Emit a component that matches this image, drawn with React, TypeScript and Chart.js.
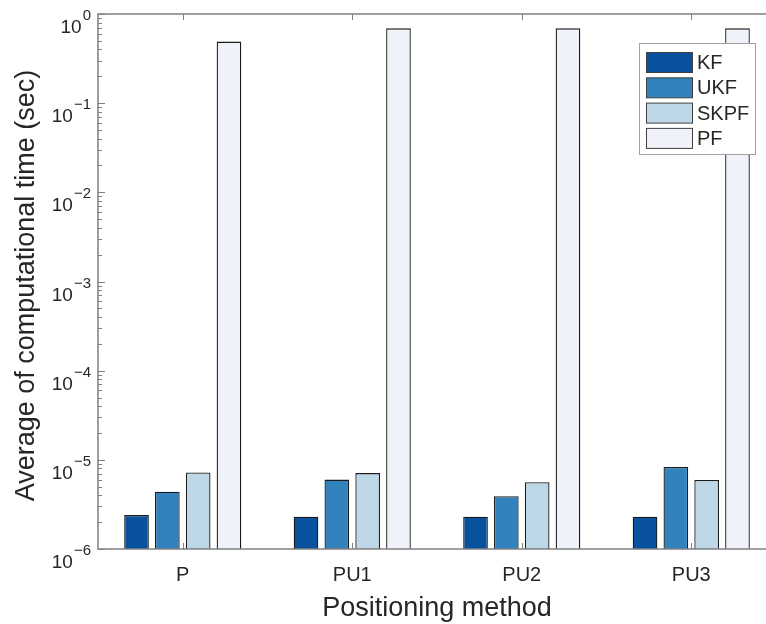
import { useEffect, useRef } from "react";
import { Chart, registerables } from "chart.js";

Chart.register(...registerables);

// Positioning methods and the average run time (seconds) of each filter
const categories = ["P", "PU1", "PU2", "PU3"];
const seriesNames = ["KF", "UKF", "SKPF", "PF"];
const kfTimes = [2.4e-6, 2.3e-6, 2.3e-6, 2.3e-6];
const ukfTimes = [4.4e-6, 6.0e-6, 3.9e-6, 8.3e-6];
const skpfTimes = [7.2e-6, 7.1e-6, 5.6e-6, 5.95e-6];
const pfTimes = [0.49, 0.69, 0.69, 0.69];
const yTickExponents = [0, -1, -2, -3, -4, -5, -6];
const xTitle = "Positioning method";
const yTitle = "Average of computational time (sec)";

const seriesColors = ["#08519c", "#3182bd", "#bdd7e7", "#eff3f9"];
const FONT = '"Liberation Sans", Arial, Helvetica, sans-serif';
const AXIS_COLOR = "#808080";
const TEXT_COLOR = "#262626";
const EDGE_COLOR = "#1a1a1a";

const CANVAS_W = 790;
const CANVAS_H = 624;

// Axes frame, inward ticks, tick labels, titles and the boxed legend
const decorations = {
  id: "matlabDecorations",
  afterDraw(chart: any) {
    const ctx: CanvasRenderingContext2D = chart.ctx;
    const { left, right, top, bottom } = chart.chartArea;
    const xs = chart.scales.x;
    const ys = chart.scales.y;
    ctx.save();

    // frame
    ctx.strokeStyle = AXIS_COLOR;
    ctx.lineWidth = 1.5;
    ctx.strokeRect(left, top, right - left, bottom - top);

    // y ticks (major + minor), drawn inward on both sides
    ctx.lineWidth = 1;
    ctx.beginPath();
    for (const e of yTickExponents) {
      for (let m = 1; m <= 9; m++) {
        const v = m * Math.pow(10, e);
        if (v > 1.0000001) continue;
        const py = Math.round(ys.getPixelForValue(v)) + 0.5;
        const len = m === 1 ? 7 : 4;
        ctx.moveTo(left, py);
        ctx.lineTo(left + len, py);
        ctx.moveTo(right, py);
        ctx.lineTo(right - len, py);
      }
    }
    // x ticks at category centres
    categories.forEach((_, i) => {
      const px = Math.round(xs.getPixelForValue(i)) + 0.5;
      ctx.moveTo(px, bottom);
      ctx.lineTo(px, bottom - 6);
      ctx.moveTo(px, top);
      ctx.lineTo(px, top + 6);
    });
    ctx.stroke();

    ctx.fillStyle = TEXT_COLOR;

    // y tick labels: 10 with superscript exponent
    for (const e of yTickExponents) {
      const py = ys.getPixelForValue(Math.pow(10, e));
      const expText = e < 0 ? "\u2212" + Math.abs(e) : String(e);
      ctx.font = `15px ${FONT}`;
      const expW = ctx.measureText(expText).width;
      const rightEdge = left - 7;
      ctx.textAlign = "left";
      ctx.textBaseline = "alphabetic";
      ctx.fillText(expText, rightEdge - expW, py + 6);
      ctx.font = `19px ${FONT}`;
      ctx.textAlign = "right";
      ctx.fillText("10", rightEdge - expW - 1, py + 19);
    }

    // category labels
    ctx.font = `20px ${FONT}`;
    ctx.textAlign = "center";
    ctx.textBaseline = "alphabetic";
    categories.forEach((c, i) => {
      ctx.fillText(c, xs.getPixelForValue(i), bottom + 32);
    });

    // axis titles
    ctx.font = `27px ${FONT}`;
    ctx.fillText(xTitle, (left + right) / 2, 616);
    ctx.save();
    ctx.translate(34, (top + bottom) / 2 + 4);
    ctx.rotate(-Math.PI / 2);
    ctx.fillText(yTitle, 0, 0);
    ctx.restore();

    // legend
    const lx = 639.5, ly = 43.5, lw = 116, lh = 111;
    ctx.fillStyle = "#ffffff";
    ctx.fillRect(lx, ly, lw, lh);
    ctx.strokeStyle = "#a0a0a0";
    ctx.lineWidth = 1;
    ctx.strokeRect(lx, ly, lw, lh);
    ctx.font = `20px ${FONT}`;
    ctx.textAlign = "left";
    ctx.textBaseline = "middle";
    chart.data.datasets.forEach((ds: any, i: number) => {
      const sy = 52.5 + i * 25.3;
      ctx.fillStyle = ds.backgroundColor;
      ctx.fillRect(646.5, sy, 46, 20);
      ctx.strokeStyle = "#404040";
      ctx.strokeRect(646.5, sy, 46, 20);
      ctx.fillStyle = TEXT_COLOR;
      ctx.fillText(ds.label, 697, sy + 11);
    });

    ctx.restore();
  },
};

export default function App() {
  const canvasRef = useRef<HTMLCanvasElement | null>(null);

  useEffect(() => {
    const canvas = canvasRef.current;
    if (!canvas) return;
    const seriesValues = [kfTimes, ukfTimes, skpfTimes, pfTimes];
    const chart = new Chart(canvas, {
      type: "bar",
      data: {
        labels: categories,
        datasets: seriesNames.map((name, i) => ({
          label: name,
          data: seriesValues[i],
          backgroundColor: seriesColors[i],
          borderColor: EDGE_COLOR,
          borderWidth: 1.3,
          categoryPercentage: 0.7273,
          barPercentage: 0.8,
        })),
      },
      options: {
        responsive: false,
        animation: false,
        devicePixelRatio: 1,
        layout: { padding: { left: 98, top: 14, right: CANVAS_W - 776, bottom: CANVAS_H - 549 } },
        plugins: {
          legend: { display: false },
          tooltip: { enabled: false },
        },
        scales: {
          x: { type: "category", display: false, offset: true },
          y: { type: "logarithmic", display: false, min: 1e-6, max: 1 },
        },
      },
      plugins: [decorations],
    });
    return () => chart.destroy();
  }, []);

  return (
    <div
      style={{
        position: "fixed",
        left: 0,
        top: 0,
        width: 766,
        height: 624,
        overflow: "hidden",
        background: "#ffffff",
      }}
    >
      <canvas
        ref={canvasRef}
        width={CANVAS_W}
        height={CANVAS_H}
        style={{ display: "block", width: CANVAS_W, height: CANVAS_H }}
      />
    </div>
  );
}
